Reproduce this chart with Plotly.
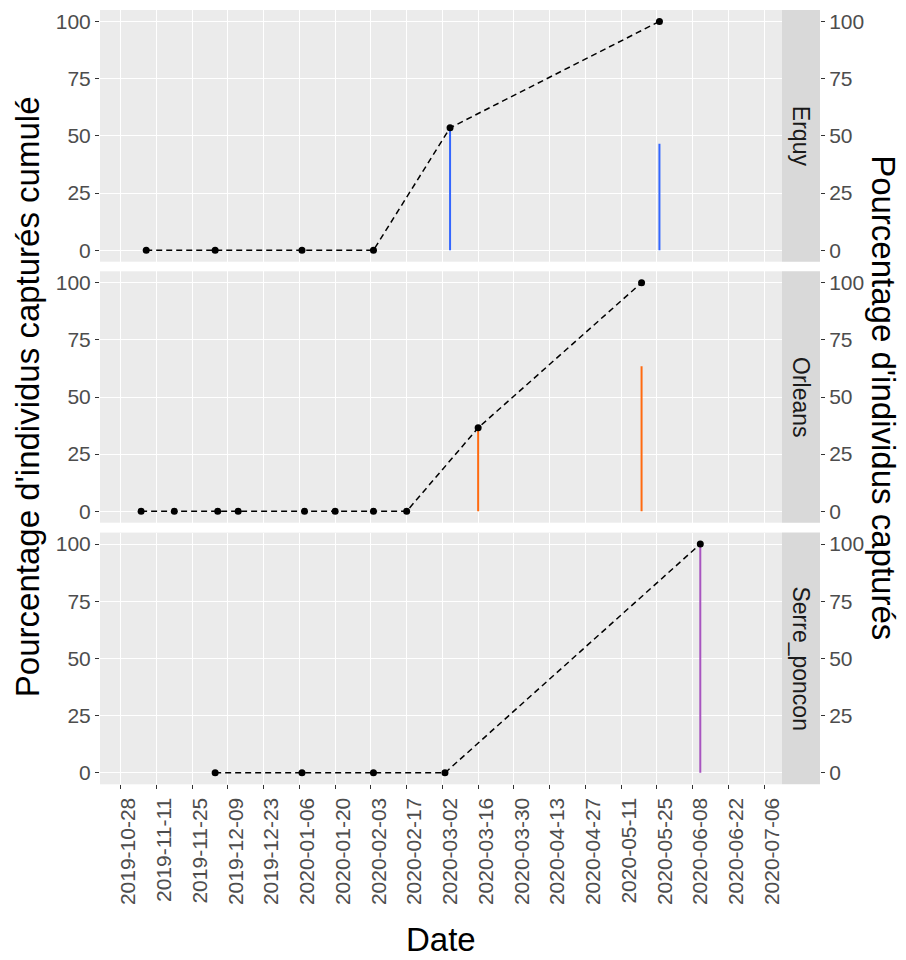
import plotly.graph_objects as go
import pandas as pd

# ---------------- data ----------------
sites = ["Erquy", "Orleans", "Serre_poncon"]

erquy_dates = ["2019-11-07", "2019-12-04", "2020-01-07", "2020-02-04", "2020-03-05", "2020-05-26"]
erquy_cum = [0, 0, 0, 0, 53.5, 100]
erquy_capt = [0, 0, 0, 0, 53.5, 46.5]

orleans_dates = ["2019-11-05", "2019-11-18", "2019-12-05", "2019-12-13", "2020-01-08",
                 "2020-01-20", "2020-02-04", "2020-02-17", "2020-03-16", "2020-05-19"]
orleans_cum = [0, 0, 0, 0, 0, 0, 0, 0, 36.5, 100]
orleans_capt = [0, 0, 0, 0, 0, 0, 0, 0, 36.5, 63.5]

serre_dates = ["2019-12-04", "2020-01-07", "2020-02-04", "2020-03-03", "2020-06-11"]
serre_cum = [0, 0, 0, 0, 100]
serre_capt = [0, 0, 0, 0, 100]

site_colors = ["#3366FF", "#FF6A10", "#A855C0"]

tick_dates = ["2019-10-28", "2019-11-11", "2019-11-25", "2019-12-09", "2019-12-23",
              "2020-01-06", "2020-01-20", "2020-02-03", "2020-02-17", "2020-03-02",
              "2020-03-16", "2020-03-30", "2020-04-13", "2020-04-27", "2020-05-11",
              "2020-05-25", "2020-06-08", "2020-06-22", "2020-07-06"]
y_ticks = [0, 25, 50, 75, 100]

# ---------------- layout helpers ----------------
OFF = 8  # page body margin
W, H = 906 - OFF, 960 - OFF
FONT = "Liberation Sans, Arial, sans-serif"
panel_x = (100, 782)
strip_x = (782, 820)
panels_y = [(10, 261.7), (271.3, 522.7), (532.6, 784.3)]

def px(x):
    return (x - OFF) / W

def py(y):
    return 1 - (y - OFF) / H

x0 = pd.Timestamp("2019-10-28") - pd.Timedelta(days=8.1)
x1 = pd.Timestamp("2019-10-28") + pd.Timedelta(days=259.0)

fig = go.Figure()

series = [
    (erquy_dates, erquy_cum, erquy_capt),
    (orleans_dates, orleans_cum, orleans_capt),
    (serre_dates, serre_cum, serre_capt),
]

for i, (dates, cum, capt) in enumerate(series):
    xa = "x" if i == 0 else f"x{i+1}"
    ya = "y" if i == 0 else f"y{i+1}"
    sx, sy = [], []
    for d, v in zip(dates, capt):
        if v > 0:
            sx += [d, d, None]
            sy += [0, v, None]
    fig.add_trace(go.Scatter(x=sx, y=sy, mode="lines", xaxis=xa, yaxis=ya,
                             line=dict(color=site_colors[i], width=2),
                             showlegend=False, hoverinfo="skip"))
    fig.add_trace(go.Scatter(x=dates, y=cum, mode="lines+markers", xaxis=xa, yaxis=ya,
                             line=dict(color="black", width=1.5, dash="6px,4px"),
                             marker=dict(color="black", size=7),
                             showlegend=False))

layout = dict(
    width=W, height=H,
    margin=dict(l=0, r=0, t=0, b=0),
    paper_bgcolor="white", plot_bgcolor="#EBEBEB",
    font=dict(family=FONT, color="#4D4D4D", size=20),
    showlegend=False,
)

TICKFONT = dict(size=21, color="#4D4D4D", family=FONT)
shapes = []
annotations = []
for i, (top, bot) in enumerate(panels_y):
    sfx = "" if i == 0 else str(i + 1)
    xkey = "xaxis" + sfx
    ykey = "yaxis" + sfx
    last = (i == 2)
    layout[xkey] = dict(
        domain=[px(panel_x[0]), px(panel_x[1])],
        anchor="y" + sfx,
        type="date",
        range=[x0, x1],
        tickmode="array",
        tickvals=tick_dates,
        ticktext=tick_dates if last else [""] * len(tick_dates),
        showticklabels=last,
        tickangle=-90,
        ticklabelshift=8,
        ticks="outside" if last else "",
        ticklen=4, tickwidth=1.1, tickcolor="#333333",
        tickfont=TICKFONT,
        showgrid=True, gridcolor="white", gridwidth=1.4,
        zeroline=False, showline=False,
        matches=None if i == 0 else "x",
    )
    layout[ykey] = dict(
        domain=[py(bot), py(top)],
        anchor="x" + sfx,
        range=[-5, 105],
        tickmode="array", tickvals=y_ticks,
        ticks="outside", ticklen=4, tickwidth=1.1, tickcolor="#333333",
        tickfont=TICKFONT,
        showgrid=True, gridcolor="white", gridwidth=1.4,
        zeroline=False, showline=False,
    )
    rk = "yaxis" + str(i + 4)
    layout[rk] = dict(
        overlaying="y" + sfx,
        anchor="free",
        position=px(strip_x[1]),
        side="right",
        range=[-5, 105],
        tickmode="array", tickvals=y_ticks,
        ticks="outside", ticklen=4, tickwidth=1.1, tickcolor="#333333",
        tickfont=TICKFONT,
        showgrid=False, zeroline=False, showline=False,
    )
    shapes.append(dict(type="rect", xref="paper", yref="paper",
                       x0=px(strip_x[0]), x1=px(strip_x[1]),
                       y0=py(bot), y1=py(top),
                       fillcolor="#D9D9D9", line=dict(width=0), layer="below"))
    annotations.append(dict(x=px((strip_x[0] + strip_x[1]) / 2), y=py((top + bot) / 2),
                            xref="paper", yref="paper", text=sites[i], showarrow=False,
                            textangle=90, font=dict(size=23, color="#1A1A1A", family=FONT),
                            xanchor="center", yanchor="middle"))

for i in range(3):
    fig.add_trace(go.Scatter(x=[None], y=[None], xaxis="x" if i == 0 else f"x{i+1}",
                             yaxis=f"y{i+4}", showlegend=False, hoverinfo="skip"))

mid_y = (panels_y[0][0] + panels_y[2][1]) / 2
annotations.append(dict(x=px(27), y=py(mid_y), xref="paper", yref="paper",
                        text="Pourcentage d'individus capturés cumulé", showarrow=False,
                        textangle=-90, font=dict(size=33, color="black", family=FONT),
                        xanchor="center", yanchor="middle"))
annotations.append(dict(x=px(884), y=py(mid_y), xref="paper", yref="paper",
                        text="Pourcentage d'individus capturés", showarrow=False,
                        textangle=90, font=dict(size=33, color="black", family=FONT),
                        xanchor="center", yanchor="middle"))
annotations.append(dict(x=px((panel_x[0] + panel_x[1]) / 2), y=py(939), xref="paper", yref="paper",
                        text="Date", showarrow=False,
                        font=dict(size=33, color="black", family=FONT),
                        xanchor="center", yanchor="middle"))

layout["shapes"] = shapes
layout["annotations"] = annotations
fig.update_layout(**layout)

fig.write_html("out.html")
